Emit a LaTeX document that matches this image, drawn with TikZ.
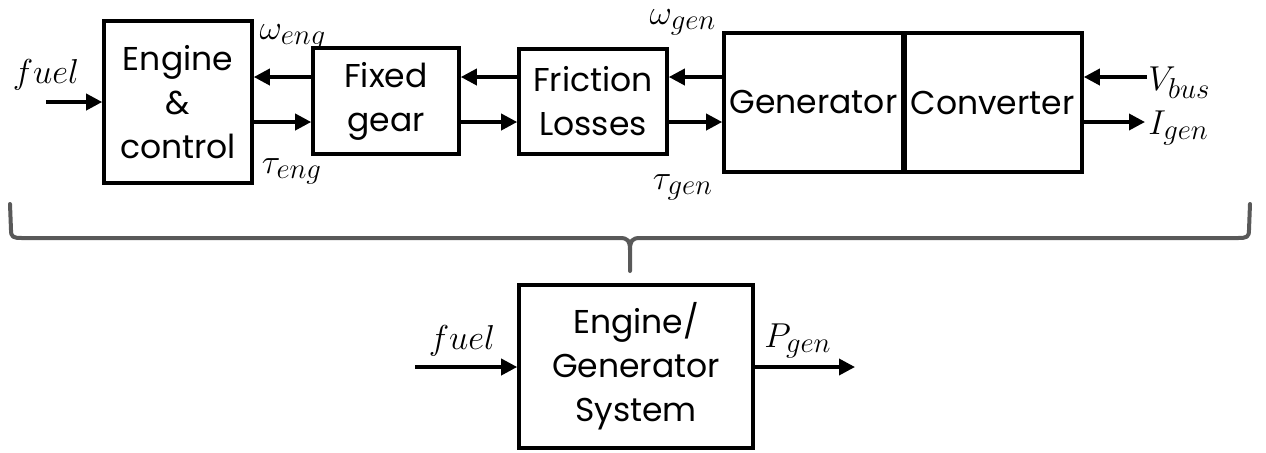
\documentclass[tikz,border=0pt]{standalone}
\usepackage{fontspec}
\setmainfont{Poppins}
\usetikzlibrary{arrows.meta}

\newcommand\blockfont{\fontsize{16.5}{22}\selectfont}
\newcommand\lblfont{\fontsize{17}{19}\selectfont}
\DeclareMathSizes{17}{17}{13.5}{11}

\tikzset{
  block/.style={draw, line width=1.8pt, inner sep=0pt, align=center, font=\blockfont},
  sig/.style={line width=1.8pt, -{Triangle[length=8pt,width=8pt]}},
  lbl/.style={inner sep=0pt, font=\lblfont},
  brace/.style={draw=black!65, line width=2pt, line cap=round, line join=round},
}

\begin{document}
\begin{tikzpicture}[x=0.5pt, y=-0.5pt]
  \useasboundingbox (0,0) rectangle (1266,452);

  % upper chain
  \node[block, minimum width=74pt, minimum height=81pt] (eng) at (178,102) {Engine\\\&\\control};
  \node[block, minimum width=73pt, minimum height=53pt] (gear) at (386,101) {Fixed\\gear};
  \node[block, minimum width=74pt, minimum height=52.5pt] (fric) at (593,101.5) {Friction\\Losses};
  \node[block, minimum width=89.5pt, minimum height=69.5pt] (gen) at (813.5,102.5) {Generator};
  \node[block, minimum width=89.5pt, minimum height=69.5pt] (conv) at (992.5,102.5) {Converter};
  \draw[line width=2.6pt] (gen.north east) -- (gen.south east);

  \coordinate (fuelin) at (46,102);
  \coordinate (vbus) at (1147,77);
  \coordinate (igen) at (1145,122);

  \draw[sig] (fuelin) -- (eng.west);
  \draw[sig] (gear.west |- 0,77) -- (eng.east |- 0,77);
  \draw[sig] (eng.east |- 0,122) -- (gear.west |- 0,122);
  \draw[sig] (fric.west |- 0,77) -- (gear.east |- 0,77);
  \draw[sig] (gear.east |- 0,122) -- (fric.west |- 0,122);
  \draw[sig] (gen.west |- 0,77) -- (fric.east |- 0,77);
  \draw[sig] (fric.east |- 0,122) -- (gen.west |- 0,122);
  \draw[sig] (vbus) -- (conv.east |- vbus);
  \draw[sig] (conv.east |- igen) -- (igen);

  \node[lbl] (lfuel) at (46,75) {$fuel$};
  \node[lbl] (lweng) at (293,37) {$\omega_{eng}$};
  \node[lbl] (lteng) at (292,171) {$\tau_{eng}$};
  \node[lbl] (lwgen) at (683,22) {$\omega_{gen}$};
  \node[lbl] (ltgen) at (683,187) {$\tau_{gen}$};
  \node[lbl, anchor=west] (lvbus) at (1148,83) {$V_{bus}$};
  \node[lbl, anchor=west] (ligen) at (1148,128) {$I_{gen}$};

  % brace
  \draw[brace] (10,204) -- (11,230) .. controls (11,237) and (13,238) .. (22,238)
    -- (620,238) .. controls (628,238) and (630,241) .. (630,250) -- (630,271);
  \draw[brace] (1250,204) -- (1249,230) .. controls (1249,237) and (1247,238) .. (1238,238)
    -- (640,238) .. controls (632,238) and (630,241) .. (630,250);

  % lumped model
  \node[block, minimum width=117pt, minimum height=81.5pt] (sys) at (636,366.5) {Engine/\\Generator\\System};

  \coordinate (fuel2in) at (415,367);
  \coordinate (pout) at (855,367);

  \draw[sig] (fuel2in) -- (sys.west |- fuel2in);
  \draw[sig] (sys.east |- pout) -- (pout);

  \node[lbl] (lfuel2) at (462,341) {$fuel$};
  \node[lbl] (lpgen) at (798,341) {$P_{gen}$};
\end{tikzpicture}
\end{document}
